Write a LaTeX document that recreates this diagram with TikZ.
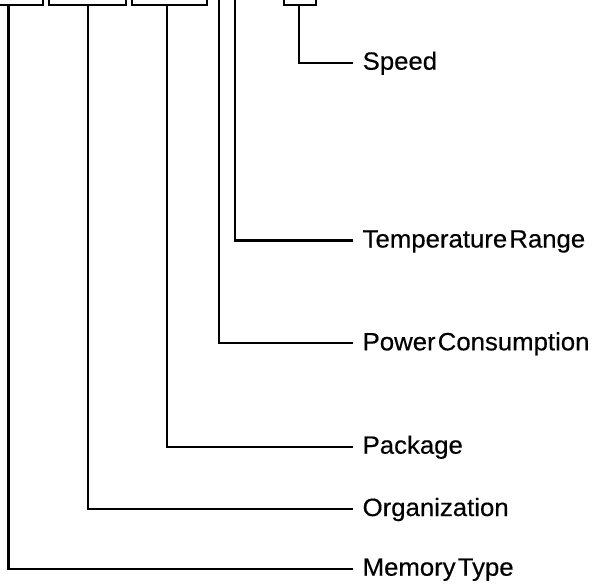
\documentclass[tikz,border=0pt]{standalone}
\usepackage{fontspec}
\setmainfont{Liberation Sans}
\newfontfamily\lab[FakeStretch=1.03,FakeBold=0.4,WordSpace=0.3]{Liberation Sans}
\begin{document}
\begin{tikzpicture}[x=1bp,y=-1bp,line width=2.3bp,
  lbl/.style={font=\lab\fontsize{25bp}{28bp}\selectfont,anchor=base west,inner sep=0pt},
  topbox/.style={draw,line width=2.3bp,minimum height=40bp,anchor=south west,inner sep=0pt,outer sep=0pt},
  conn/.style={draw,line width=2.3bp}]
\useasboundingbox (0,0) rectangle (592,586);
\clip (0,0) rectangle (592,586);
% boxes at the top (cut by the border)
\node[topbox,minimum width=62.7bp] (b1) at (-20,5) {};
\node[topbox,minimum width=76.4bp] (b2) at (49.3,5) {};
\node[topbox,minimum width=74.4bp] (b3) at (132.3,5) {};
\node[topbox,minimum width=32bp] (b4) at (284,5) {};
\coordinate (t5) at (219,-10);
\coordinate (t6) at (235,-10);
% line ends
\coordinate (eS) at (353.3,62.7);
\coordinate (eT) at (353.3,240.5);
\coordinate (eP) at (353.3,343.3);
\coordinate (eK) at (353.3,446.7);
\coordinate (eO) at (353.3,509);
\coordinate (eM) at (353.3,568.7);
% labels
\node[lbl] (speed) at (361.5,69.7) {Speed};
\node[lbl] (temp) at (361.5,247.5) {Temperature Range};
\node[lbl] (power) at (361.5,350.3) {Power Consumption};
\node[lbl] (pack) at (361.5,453.7) {Package};
\node[lbl] (org) at (361.5,516) {Organization};
\node[lbl] (mem) at (361.5,575.7) {Memory Type};
% connectors
\draw[conn] (b4.south -| 299.3,0) |- (eS);
\draw[conn] (t6) |- (eT);
\draw[conn] (t5) |- (eP);
\draw[conn] (b3.south -| 167.3,0) |- (eK);
\draw[conn] (b2.south -| 88.3,0) |- (eO);
\draw[conn] (b1.south -| 8.5,0) |- (eM);
\end{tikzpicture}
\end{document}
